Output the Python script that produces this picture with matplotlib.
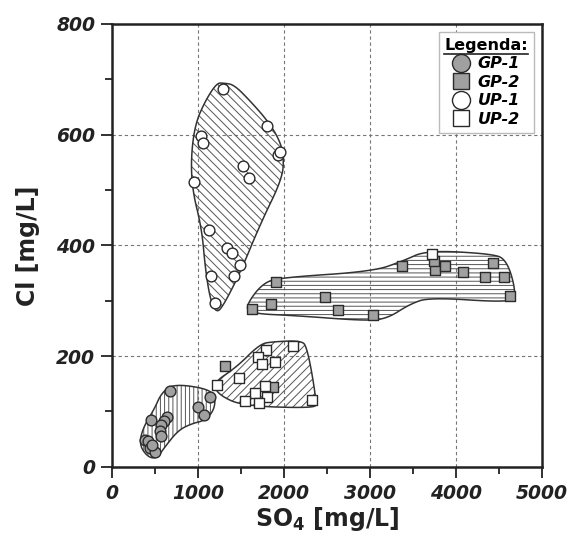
import numpy as np
import matplotlib
matplotlib.use('Agg')
import matplotlib.pyplot as plt
from matplotlib.patches import Polygon
from matplotlib.lines import Line2D

# ---------------- data ----------------
gp1_so4 = [680, 1135, 1000, 1072, 640, 610, 455, 570, 560, 575, 390, 425, 445, 500, 470]
gp1_cl = [137, 127, 108, 94, 90, 83, 84, 75, 65, 56, 48, 46, 34, 26, 40]

gp2_so4 = [1903, 1624, 1845, 2481, 2624, 3039, 3368, 3756, 3872, 4085, 4337, 4434, 4558, 4628,
           3745, 1314, 1868]
gp2_cl = [333, 285, 294, 307, 283, 274, 362, 356, 362, 351, 342, 368, 343, 309,
          372, 182, 145]

up1_so4 = [1287, 1806, 1035, 1055, 1934, 1950, 1527, 1590, 953, 1131, 1341, 1392, 1488, 1422, 1151, 1198]
up1_cl = [682, 616, 598, 584, 564, 568, 544, 522, 515, 427, 396, 387, 365, 345, 345, 295]

up2_so4 = [2108, 1787, 1701, 1740, 1895, 1481, 1225, 1779, 1663, 1799, 1547, 1713, 2322, 3720]
up2_cl = [219, 211, 199, 185, 190, 161, 148, 146, 133, 127, 119, 116, 120, 384]

# field outlines (control vertices, SO4, Cl)
gp1_field = [(713, 150), (1120, 141), (1205, 125), (1185, 102), (1085, 84), (927, 78),
             (771, 66), (616, 36), (520, 15), (415, 18), (318, 40), (360, 70),
             (495, 105), (575, 133)]
gp2_field = [(1560, 292), (1760, 333), (1990, 342), (3039, 353), (3388, 372), (3659, 391),
             (4395, 385), (4595, 375), (4712, 307), (4589, 297), (3698, 306), (3465, 294),
             (3194, 267), (2922, 264), (2147, 273), (1600, 277)]
up1_field = [(1300, 693), (1420, 690), (1600, 662), (1800, 627), (1945, 592), (2000, 560),
             (1980, 520), (1730, 440), (1490, 350), (1275, 285), (1205, 280), (1140, 305),
             (1085, 360), (1045, 430), (935, 500), (920, 560), (970, 620), (1090, 662),
             (1220, 693)]
up2_field = [(1170, 151), (1450, 180), (1721, 222), (1876, 226), (2190, 228), (2270, 218),
             (2385, 115), (2345, 106), (1527, 110), (1250, 129)]

xticks = [0, 1000, 2000, 3000, 4000, 5000]
yticks = [0, 200, 400, 600, 800]
legend_labels = ['GP-1', 'GP-2', 'UP-1', 'UP-2']


def chaikin(pts, n=3):
    p = np.asarray(pts, float)
    for _ in range(n):
        q = np.roll(p, -1, axis=0)
        a = 0.75 * p + 0.25 * q
        b = 0.25 * p + 0.75 * q
        p = np.empty((2 * len(a), 2))
        p[0::2] = a
        p[1::2] = b
    return p


plt.rcParams['hatch.linewidth'] = 0.7
plt.rcParams['font.family'] = ['DejaVu Sans']

fig = plt.figure(figsize=(5.68, 5.41), dpi=100)
ax = fig.add_axes([0.197, 0.137, 0.757, 0.819])

ax.set_xlim(0, 5000)
ax.set_ylim(0, 800)
ax.set_xticks(xticks)
ax.set_yticks(yticks)
ax.set_xticks(np.arange(500, 5000, 1000), minor=True)
ax.set_yticks(np.arange(100, 800, 200), minor=True)
ax.grid(True, which='major', color='#777777', linestyle=(0, (3, 2.5)), linewidth=0.8)
ax.set_axisbelow(True)

for fld, h in [(gp1_field, '||||'), (gp2_field, '----'), (up1_field, '\\\\\\\\'), (up2_field, '////')]:
    p = chaikin(fld)
    ax.add_patch(Polygon(p, closed=True, facecolor='none', edgecolor='#555555', lw=0,
                         hatch=h, zorder=2))
    ax.add_patch(Polygon(p, closed=True, fill=False, edgecolor='#333333', lw=1.1, zorder=3))

ms = 60
ax.scatter(gp1_so4, gp1_cl, s=ms, marker='o', facecolor='#a0a0a0', edgecolor='#2a2a2a', lw=1.0, zorder=4)
ax.scatter(gp2_so4, gp2_cl, s=ms, marker='s', facecolor='#a0a0a0', edgecolor='#2a2a2a', lw=1.0, zorder=4)
ax.scatter(up1_so4, up1_cl, s=ms, marker='o', facecolor='white', edgecolor='#2a2a2a', lw=1.0, zorder=4)
ax.scatter(up2_so4, up2_cl, s=ms, marker='s', facecolor='white', edgecolor='#2a2a2a', lw=1.0, zorder=5)

for s in ax.spines.values():
    s.set_linewidth(1.8)
    s.set_color('#222222')

ax.tick_params(which='major', direction='out', length=8, width=1.3, pad=4, colors='#222222')
ax.tick_params(which='minor', direction='out', length=5, width=1.3, colors='#222222')
for lab in ax.get_xticklabels() + ax.get_yticklabels():
    lab.set_fontsize(13.5)
    lab.set_fontweight('bold')
    lab.set_fontstyle('italic')
    lab.set_color('#222222')

ax.set_xlabel('SO$_\\mathbf{4}$ [mg/L]', fontsize=17, fontweight='bold', labelpad=2, color='#222222')
ax.set_ylabel('Cl [mg/L]', fontsize=17, fontweight='bold', labelpad=12, color='#222222')

mk = 13
handles = [
    Line2D([], [], marker='o', ls='none', markersize=mk, markerfacecolor='#a0a0a0', markeredgecolor='#2a2a2a'),
    Line2D([], [], marker='s', ls='none', markersize=mk - 1, markerfacecolor='#a0a0a0', markeredgecolor='#2a2a2a'),
    Line2D([], [], marker='o', ls='none', markersize=mk, markerfacecolor='white', markeredgecolor='#2a2a2a'),
    Line2D([], [], marker='s', ls='none', markersize=mk - 1, markerfacecolor='white', markeredgecolor='#2a2a2a'),
]
leg = ax.legend(handles, legend_labels, loc='upper right', bbox_to_anchor=(0.988, 0.988),
                title='Legenda:', fancybox=False, framealpha=1, edgecolor='#bbbbbb',
                prop={'size': 11.5, 'weight': 'bold', 'style': 'italic'},
                title_fontproperties={'size': 11.5, 'weight': 'bold'},
                handlelength=1.1, handletextpad=0.5, labelspacing=0.22, borderpad=0.35,
                borderaxespad=0.2)
leg.get_frame().set_linewidth(1.0)
leg.set_zorder(10)

fig.canvas.draw()
tb = leg.get_title().get_window_extent(fig.canvas.get_renderer())
inv = fig.transFigure.inverted()
(x0, y0), (x1, y1) = inv.transform([[tb.x0, tb.y0 - 1], [tb.x1, tb.y0 - 1]])
fig.add_artist(Line2D([x0, x1], [y0, y1], transform=fig.transFigure, color='#222222', lw=1.2, zorder=11))

fig.savefig('out.png', dpi=100)
